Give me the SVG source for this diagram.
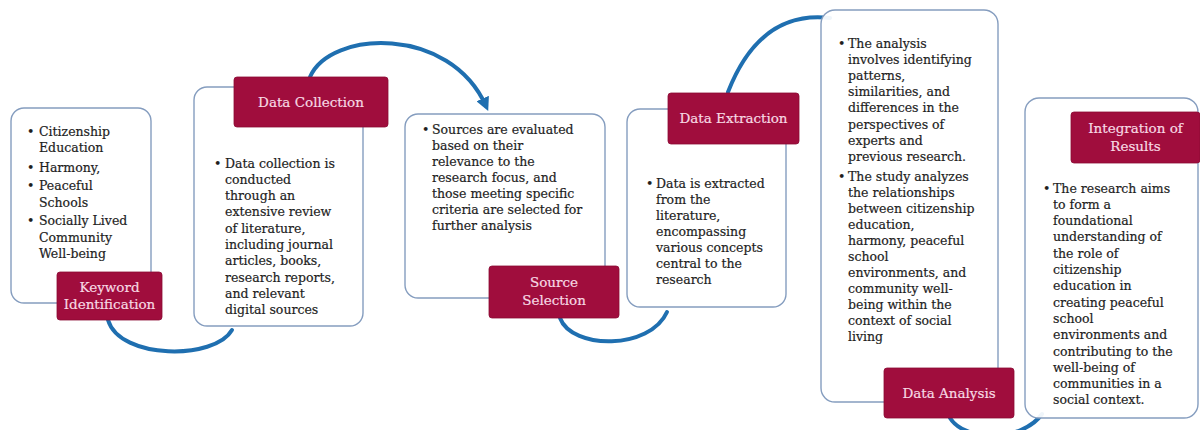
<svg xmlns="http://www.w3.org/2000/svg" width="1200" height="430" viewBox="0 0 1200 430">
<defs>
<marker id="arrow" viewBox="0 0 10 10" refX="6" refY="5" markerWidth="3.4" markerHeight="3.4" orient="auto" markerUnits="strokeWidth">
<path d="M0,0 L10,5 L0,10 z" fill="#1f6fb0"/>
</marker>
</defs>
<style>
.box{fill:#ffffff;fill-opacity:0.93;stroke:#859dbf;stroke-width:1.4}
.lab{fill:#a00d3d;stroke:#8a0a33;stroke-width:0.8}
.lt{font-family:"DejaVu Serif","Liberation Serif",serif;font-size:13.5px;fill:#f7d9e3;stroke:#f7d9e3;stroke-width:0.2;text-anchor:middle}
.t{font-family:"DejaVu Serif","Liberation Serif",serif;font-size:12.5px;fill:#1e1e1e;stroke:#1e1e1e;stroke-width:0.2}
.conn{fill:none;stroke:#1f6fb0;stroke-width:4;stroke-linecap:round}
</style>
<rect width="1200" height="430" fill="#ffffff"/>
<g id="connectors">
<path class="conn" d="M108,320 C120,360 215,360 232,330"/>
<path class="conn" d="M310,77 C330,30 450,25 486,106" marker-end="url(#arrow)"/>
<path class="conn" d="M560,318 C572,350 650,350 667,312"/>
<path class="conn" d="M728,92 Q760,10 830,18"/>
<path class="conn" d="M950,418 C965,442 1022,442 1042,414"/>
</g>
<g id="keyword-identification">
<rect class="box" x="11" y="108" width="140" height="195" rx="13"/>
<text class="t" x="27" y="136">•</text>
<text class="t" x="39" y="136">Citizenship</text>
<text class="t" x="39" y="152">Education</text>
<text class="t" x="27" y="172">•</text>
<text class="t" x="39" y="172">Harmony,</text>
<text class="t" x="27" y="190">•</text>
<text class="t" x="39" y="190">Peaceful</text>
<text class="t" x="39" y="207">Schools</text>
<text class="t" x="27" y="225">•</text>
<text class="t" x="39" y="225">Socially Lived</text>
<text class="t" x="39" y="242">Community</text>
<text class="t" x="39" y="258">Well-being</text>
<rect class="lab" x="57" y="272" width="105" height="48" rx="3"/>
<text class="lt" x="109.5" y="292">Keyword</text>
<text class="lt" x="109.5" y="309">Identification</text>
</g>
<g id="data-collection">
<rect class="box" x="194" y="87" width="169" height="239" rx="13"/>
<text class="t" x="214" y="167.5">•</text>
<text class="t" x="225" y="167.5">Data collection is</text>
<text class="t" x="225" y="183.8">conducted</text>
<text class="t" x="225" y="200.1">through an</text>
<text class="t" x="225" y="216.4">extensive review</text>
<text class="t" x="225" y="232.7">of literature,</text>
<text class="t" x="225" y="249">including journal</text>
<text class="t" x="225" y="265.3">articles, books,</text>
<text class="t" x="225" y="281.6">research reports,</text>
<text class="t" x="225" y="297.9">and relevant</text>
<text class="t" x="225" y="314.2">digital sources</text>
<rect class="lab" x="234" y="77" width="154" height="50" rx="3"/>
<text class="lt" x="311" y="106.5">Data Collection</text>
</g>
<g id="source-selection">
<rect class="box" x="405" y="114" width="200" height="184" rx="13"/>
<text class="t" x="422" y="133.5">•</text>
<text class="t" x="432" y="133.5">Sources are evaluated</text>
<text class="t" x="432" y="149.5">based on their</text>
<text class="t" x="432" y="165.5">relevance to the</text>
<text class="t" x="432" y="181.5">research focus, and</text>
<text class="t" x="432" y="197.5">those meeting specific</text>
<text class="t" x="432" y="213.5">criteria are selected for</text>
<text class="t" x="432" y="229.5">further analysis</text>
<rect class="lab" x="489" y="266" width="130" height="52" rx="3"/>
<text class="lt" x="554" y="286.5">Source</text>
<text class="lt" x="554" y="305">Selection</text>
</g>
<g id="data-extraction">
<rect class="box" x="627" y="109" width="159" height="198" rx="13"/>
<text class="t" x="646" y="187.5">•</text>
<text class="t" x="656" y="187.5">Data is extracted</text>
<text class="t" x="656" y="203.5">from the</text>
<text class="t" x="656" y="219.5">literature,</text>
<text class="t" x="656" y="235.5">encompassing</text>
<text class="t" x="656" y="251.5">various concepts</text>
<text class="t" x="656" y="267.5">central to the</text>
<text class="t" x="656" y="283.5">research</text>
<rect class="lab" x="668" y="93" width="131" height="51" rx="3"/>
<text class="lt" x="733.5" y="123">Data Extraction</text>
</g>
<g id="data-analysis">
<rect class="box" x="821" y="10" width="177" height="392" rx="14"/>
<text class="t" x="838" y="47.5">•</text>
<text class="t" x="848" y="47.5">The analysis</text>
<text class="t" x="848" y="63.7">involves identifying</text>
<text class="t" x="848" y="79.9">patterns,</text>
<text class="t" x="848" y="96.1">similarities, and</text>
<text class="t" x="848" y="112.3">differences in the</text>
<text class="t" x="848" y="128.5">perspectives of</text>
<text class="t" x="848" y="144.7">experts and</text>
<text class="t" x="848" y="160.9">previous research.</text>
<text class="t" x="838" y="180.8">•</text>
<text class="t" x="848" y="180.8">The study analyzes</text>
<text class="t" x="848" y="196.8">the relationships</text>
<text class="t" x="848" y="212.8">between citizenship</text>
<text class="t" x="848" y="228.8">education,</text>
<text class="t" x="848" y="244.8">harmony, peaceful</text>
<text class="t" x="848" y="260.8">school</text>
<text class="t" x="848" y="276.8">environments, and</text>
<text class="t" x="848" y="292.8">community well-</text>
<text class="t" x="848" y="308.8">being within the</text>
<text class="t" x="848" y="324.8">context of social</text>
<text class="t" x="848" y="340.8">living</text>
<rect class="lab" x="884" y="368" width="130" height="50" rx="3"/>
<text class="lt" x="949" y="397.5">Data Analysis</text>
</g>
<g id="integration-of-results">
<rect class="box" x="1025" y="98" width="173" height="320" rx="14"/>
<text class="t" x="1043" y="192.5">•</text>
<text class="t" x="1053" y="192.5">The research aims</text>
<text class="t" x="1053" y="208.8">to form a</text>
<text class="t" x="1053" y="225.1">foundational</text>
<text class="t" x="1053" y="241.4">understanding of</text>
<text class="t" x="1053" y="257.7">the role of</text>
<text class="t" x="1053" y="274">citizenship</text>
<text class="t" x="1053" y="290.3">education in</text>
<text class="t" x="1053" y="306.6">creating peaceful</text>
<text class="t" x="1053" y="322.9">school</text>
<text class="t" x="1053" y="339.2">environments and</text>
<text class="t" x="1053" y="355.5">contributing to the</text>
<text class="t" x="1053" y="371.8">well-being of</text>
<text class="t" x="1053" y="388.1">communities in a</text>
<text class="t" x="1053" y="404.4">social context.</text>
<rect class="lab" x="1071" y="112" width="129" height="51" rx="3"/>
<text class="lt" x="1135.5" y="133">Integration of</text>
<text class="lt" x="1135.5" y="151">Results</text>
</g>
</svg>
